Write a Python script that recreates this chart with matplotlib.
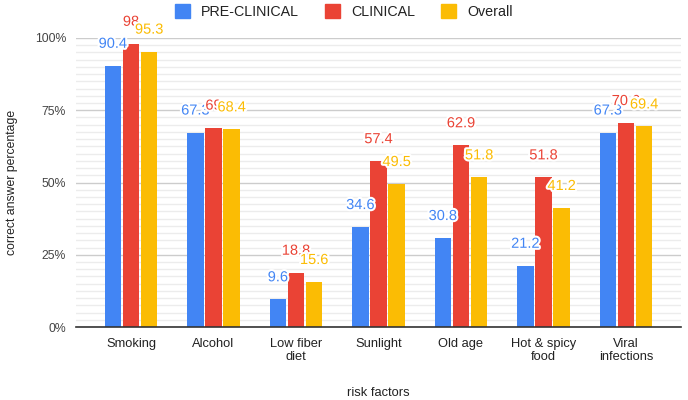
import matplotlib
matplotlib.use("Agg")
import matplotlib.pyplot as plt
import matplotlib.patheffects as pe
from matplotlib.ticker import MultipleLocator, FuncFormatter
import numpy as np

categories = ["Smoking", "Alcohol", "Low fiber\ndiet", "Sunlight", "Old age", "Hot & spicy\nfood", "Viral\ninfections"]
pre_clinical = [90.4, 67.3, 9.6, 34.6, 30.8, 21.2, 67.3]
clinical = [98, 69, 18.8, 57.4, 62.9, 51.8, 70.6]
overall = [95.3, 68.4, 15.6, 49.5, 51.8, 41.2, 69.4]
series_names = ["PRE-CLINICAL", "CLINICAL", "Overall"]
colors = ["#4285F4", "#EA4335", "#FBBC04"]

plt.rcParams['font.family'] = ['Liberation Sans', 'DejaVu Sans']

fig = plt.figure(figsize=(6.88, 4.0), dpi=100)
ax = fig.add_axes([76/688, 73/400, 605/688, 289/400])

x = np.arange(len(categories))
width = 0.2
offsets = [-0.22, 0.0, 0.22]
all_series = [pre_clinical, clinical, overall]

for vals, off, col, name in zip(all_series, offsets, colors, series_names):
    ax.bar(x + off, vals, width=width, color=col, label=name, zorder=3)

for vals, off, col in zip(all_series, offsets, colors):
    for xi, v in zip(x, vals):
        lab = ("%g" % v)
        ax.annotate(lab, (xi + off, v), xytext=(0, 15.8), textcoords='offset points',
                    ha='center', va='center', fontsize=10.5, color=col, zorder=5,
                    annotation_clip=False,
                    path_effects=[pe.withStroke(linewidth=3, foreground='white')])

ax.set_xlim(-0.667, 6.667)
ax.set_ylim(0, 100)
ax.yaxis.set_major_locator(MultipleLocator(25))
ax.yaxis.set_minor_locator(MultipleLocator(2.5))
ax.yaxis.set_major_formatter(FuncFormatter(lambda v, p: "%d%%" % v))
ax.grid(axis='y', which='major', color='#cccccc', linewidth=1, zorder=0)
ax.grid(axis='y', which='minor', color='#ececec', linewidth=1, zorder=0)
ax.set_axisbelow(True)
for s in ['top', 'right', 'left']:
    ax.spines[s].set_visible(False)
ax.spines['bottom'].set_color('#333333')
ax.spines['bottom'].set_linewidth(1.2)
ax.spines['bottom'].set_zorder(4)
ax.tick_params(axis='both', which='both', length=0)
ax.tick_params(axis='y', labelsize=8.8, labelcolor='#444444', pad=7)
ax.tick_params(axis='x', labelsize=9.3, labelcolor='#222222', pad=8)
ax.set_xticks(x)
ax.set_xticklabels(categories, linespacing=1.15)

ax.set_ylabel("correct answer percentage", fontsize=8.8, color='#222222', labelpad=12)
ax.set_xlabel("risk factors", fontsize=9.3, color='#222222', labelpad=17)

handles = [plt.Rectangle((0, 0), 1, 1, color=c) for c in colors]
fig.legend(handles, series_names, loc='center', bbox_to_anchor=(344/688, 1 - 11.5/400),
           ncol=3, frameon=False, fontsize=10.3, handlelength=1.05, handleheight=1.05,
           handletextpad=0.8, columnspacing=1.8, labelcolor='#222222')

fig.savefig("out.png", dpi=100)
